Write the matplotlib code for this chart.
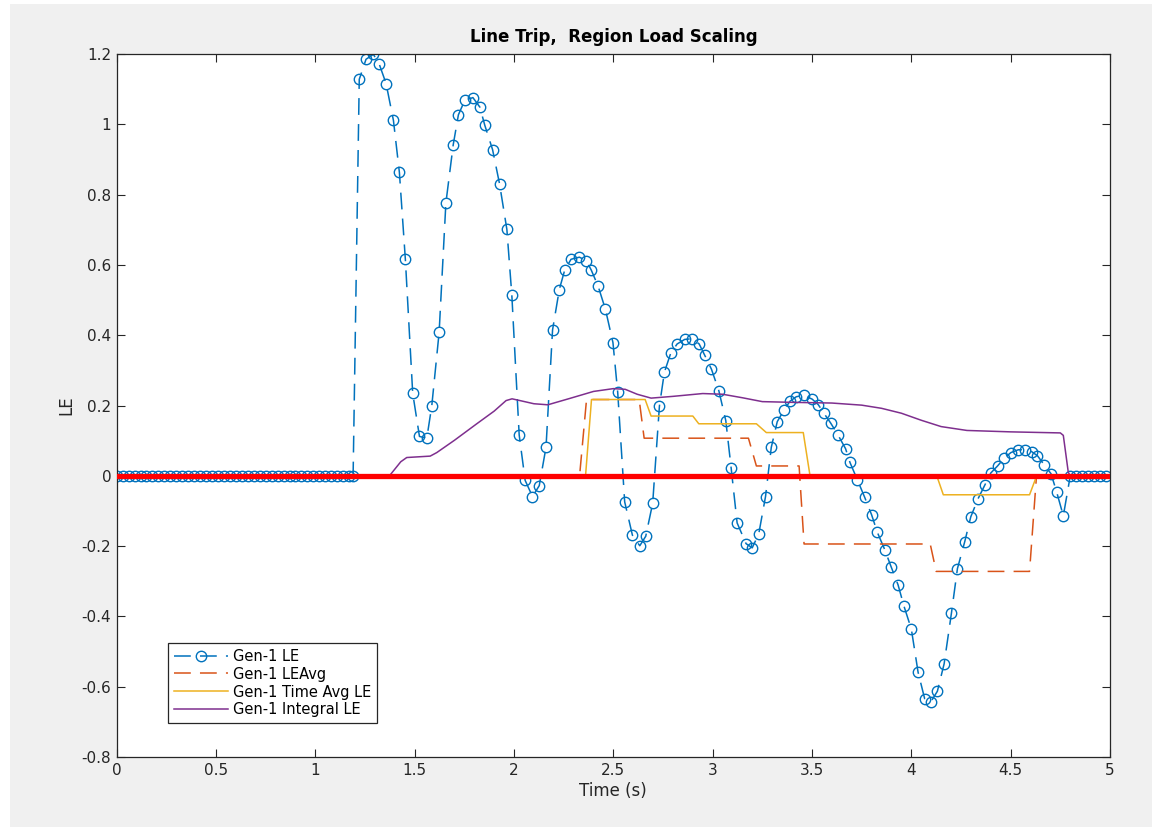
import matplotlib
matplotlib.use("Agg")
import matplotlib.pyplot as plt
from matplotlib.patches import Rectangle

plt.rcParams['font.family'] = ['DejaVu Sans']

# Gen-1 LE samples (variable step solver output)
t_le = [0.00, 0.03, 0.06, 0.09, 0.12, 0.15, 0.18, 0.21, 0.24, 0.27,
        0.30, 0.33, 0.36, 0.39, 0.42, 0.45, 0.48, 0.51, 0.54, 0.57,
        0.60, 0.63, 0.66, 0.69, 0.72, 0.75, 0.78, 0.81, 0.84, 0.87,
        0.90, 0.93, 0.96, 0.99, 1.02, 1.05, 1.08, 1.11, 1.14, 1.17, 1.19,
        1.221, 1.255, 1.292, 1.321, 1.356, 1.393, 1.423, 1.453, 1.490, 1.524,
        1.561, 1.586, 1.623, 1.657, 1.694, 1.720, 1.752, 1.793, 1.828, 1.853,
        1.892, 1.927, 1.964, 1.989, 2.026, 2.056, 2.093, 2.127, 2.161, 2.194,
        2.228, 2.255, 2.287, 2.329, 2.364, 2.389, 2.423, 2.460, 2.498, 2.522,
        2.557, 2.596, 2.633, 2.663, 2.698, 2.732, 2.757, 2.789, 2.821, 2.859,
        2.897, 2.932, 2.959, 2.994, 3.031, 3.066, 3.093, 3.123, 3.168, 3.199,
        3.232, 3.266, 3.295, 3.325, 3.360, 3.389, 3.421, 3.459, 3.501, 3.532,
        3.560, 3.594, 3.631, 3.669, 3.691, 3.728, 3.765, 3.800, 3.829, 3.866,
        3.899, 3.933, 3.963, 4.000, 4.034, 4.067, 4.097, 4.131, 4.165, 4.202,
        4.232, 4.269, 4.299, 4.336, 4.370, 4.400, 4.434, 4.467, 4.501, 4.538,
        4.572, 4.605, 4.635, 4.669, 4.703, 4.731, 4.765,
        4.80, 4.83, 4.86, 4.89, 4.92, 4.95, 4.98]
le = [0.0, 0.0, 0.0, 0.0, 0.0, 0.0, 0.0, 0.0, 0.0, 0.0,
      0.0, 0.0, 0.0, 0.0, 0.0, 0.0, 0.0, 0.0, 0.0, 0.0,
      0.0, 0.0, 0.0, 0.0, 0.0, 0.0, 0.0, 0.0, 0.0, 0.0,
      0.0, 0.0, 0.0, 0.0, 0.0, 0.0, 0.0, 0.0, 0.0, 0.0, 0.0,
      1.128, 1.185, 1.199, 1.172, 1.116, 1.011, 0.863, 0.616, 0.235, 0.112,
      0.107, 0.199, 0.408, 0.776, 0.942, 1.027, 1.068, 1.076, 1.049, 0.997,
      0.928, 0.831, 0.701, 0.514, 0.116, -0.013, -0.059, -0.028, 0.081, 0.415,
      0.530, 0.585, 0.616, 0.622, 0.612, 0.585, 0.540, 0.474, 0.379, 0.237,
      -0.074, -0.169, -0.199, -0.172, -0.078, 0.199, 0.295, 0.349, 0.375, 0.388,
      0.390, 0.375, 0.344, 0.303, 0.242, 0.157, 0.022, -0.134, -0.193, -0.205,
      -0.165, -0.059, 0.081, 0.154, 0.188, 0.212, 0.225, 0.229, 0.218, 0.202,
      0.178, 0.150, 0.116, 0.077, 0.038, -0.011, -0.061, -0.111, -0.161, -0.210,
      -0.260, -0.310, -0.371, -0.436, -0.559, -0.634, -0.644, -0.613, -0.535, -0.390,
      -0.264, -0.187, -0.117, -0.065, -0.026, 0.008, 0.028, 0.050, 0.066, 0.074,
      0.074, 0.069, 0.057, 0.031, 0.006, -0.045, -0.114,
      0.0, 0.0, 0.0, 0.0, 0.0, 0.0, 0.0]

# Gen-1 LEAvg (window average, stepped)
t_avg = [0.0, 2.33, 2.365, 2.63, 2.655, 3.18, 3.22, 3.435, 3.46,
         4.095, 4.125, 4.595, 4.63, 5.0]
le_avg = [0.0, 0.0, 0.217, 0.217, 0.107, 0.107, 0.028, 0.028, -0.194,
          -0.194, -0.272, -0.272, 0.0, 0.0]

# Gen-1 Time Avg LE
t_tavg = [0.0, 2.36, 2.39, 2.66, 2.69, 2.90, 2.93, 3.22, 3.27, 3.456, 3.49,
          4.128, 4.161, 4.595, 4.631, 5.0]
le_tavg = [0.0, 0.0, 0.217, 0.217, 0.170, 0.170, 0.148, 0.148, 0.123, 0.123, 0.0,
           0.0, -0.054, -0.054, 0.0, 0.0]

# Gen-1 Integral LE
t_int = [0.0, 1.373, 1.43, 1.46, 1.578, 1.611, 1.70, 1.81, 1.90, 1.96, 1.99,
         2.03, 2.10, 2.17, 2.28, 2.40, 2.50, 2.56, 2.62, 2.69, 2.80, 2.95,
         3.05, 3.15, 3.25, 3.40, 3.60, 3.75, 3.85, 3.95, 4.05, 4.15, 4.28,
         4.50, 4.75, 4.765, 4.79, 4.80, 5.0]
le_int = [0.0, 0.0, 0.040, 0.052, 0.056, 0.066, 0.101, 0.147, 0.184, 0.214, 0.219,
          0.214, 0.205, 0.202, 0.220, 0.240, 0.248, 0.246, 0.232, 0.221, 0.226, 0.234,
          0.232, 0.222, 0.211, 0.209, 0.207, 0.201, 0.192, 0.178, 0.158, 0.140, 0.129,
          0.125, 0.122, 0.115, 0.010, 0.0, 0.0]

zero_t = [0, 5]
zero_v = [0, 0]

fig = plt.figure(figsize=(11.52, 8.27), dpi=100, facecolor='white')
fig.patches.append(Rectangle((10 / 1152, 0), 1, 1 - 4 / 827, transform=fig.transFigure,
                             facecolor='#F0F0F0', edgecolor='none', zorder=-10))
ax = fig.add_axes([116.7 / 1152, 1 - 757 / 827, (1110 - 116.7) / 1152, (757 - 54) / 827])

ax.plot(t_le, le, color='#0072BD', lw=1.1, dashes=(11, 6), marker='o', ms=7.5,
        mfc='none', mew=1.0, label='Gen-1 LE')
ax.plot(t_avg, le_avg, color='#D95319', lw=1.1, dashes=(11, 6), label='Gen-1 LEAvg')
ax.plot(t_tavg, le_tavg, color='#EDB120', lw=1.1, label='Gen-1 Time Avg LE')
ax.plot(t_int, le_int, color='#7E2F8E', lw=1.1, label='Gen-1 Integral LE')
ax.plot(zero_t, zero_v, color='#FF0000', lw=3.8, zorder=5)

ax.set_xlim(0, 5)
ax.set_ylim(-0.8, 1.2)
ax.set_xticks([0, 0.5, 1, 1.5, 2, 2.5, 3, 3.5, 4, 4.5, 5])
ax.set_xticklabels(['0', '0.5', '1', '1.5', '2', '2.5', '3', '3.5', '4', '4.5', '5'])
ax.set_yticks([-0.8, -0.6, -0.4, -0.2, 0, 0.2, 0.4, 0.6, 0.8, 1, 1.2])
ax.set_yticklabels(['-0.8', '-0.6', '-0.4', '-0.2', '0', '0.2', '0.4', '0.6', '0.8', '1', '1.2'])
ax.tick_params(direction='in', length=6, width=0.8, top=True, right=True,
               labelsize=11, colors='#262626', pad=4)
for s in ax.spines.values():
    s.set_color('#262626')
    s.set_linewidth(0.9)

ax.set_title('Line Trip,  Region Load Scaling', fontsize=12, fontweight='bold',
             color='black', pad=9)
ax.set_xlabel('Time (s)', fontsize=12, color='#262626', labelpad=3)
ax.set_ylabel('LE', fontsize=12, color='#262626')

leg = ax.legend(loc='lower left', bbox_to_anchor=(0.0516, 0.048), fontsize=10.5,
                fancybox=False, framealpha=1, edgecolor='#262626',
                borderpad=0.4, labelspacing=0.2, handlelength=3.7, handletextpad=0.35,
                borderaxespad=0)
leg.get_frame().set_linewidth(0.9)

fig.savefig('out.png', dpi=100, facecolor=fig.get_facecolor())
